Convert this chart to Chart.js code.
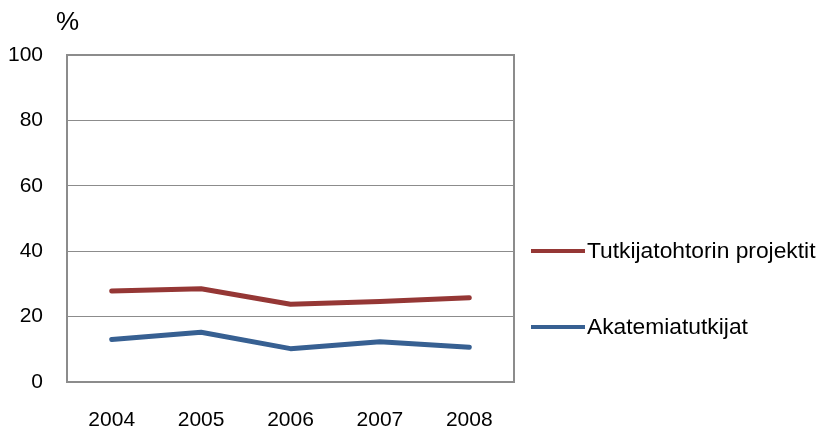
<!DOCTYPE html>
<html><head><meta charset="utf-8">
<script src="https://cdn.jsdelivr.net/npm/chart.js@4"></script>
<style>
html,body{margin:0;padding:0;background:#fff;}
#wrap{position:relative;width:819px;height:428px;}
canvas{position:absolute;left:0;top:0;}
.t{position:absolute;font-family:"Liberation Sans",Arial,sans-serif;font-size:26px;color:#000;white-space:nowrap;}
.leg{position:absolute;display:flex;align-items:center;font-family:"Liberation Sans",Arial,sans-serif;font-size:22.8px;color:#000;white-space:nowrap;}
.leg span.sw{display:inline-block;width:54px;height:4px;margin-right:2px;}
</style></head>
<body><div id="wrap"><canvas id="c" width="819" height="428"></canvas>
<div class="t" style="left:56px;top:6px;">%</div>
<div id="legend"></div></div>
<script>
const years = ['2004','2005','2006','2007','2008'];
const tutkijatohtori = [27.8, 28.5, 23.8, 24.6, 25.8];
const akatemia = [13.0, 15.2, 10.2, 12.3, 10.6];
const seriesNames = ['Tutkijatohtorin projektit', 'Akatemiatutkijat'];
const seriesColors = ['#953735', '#376092'];
const yTicks = [0, 20, 40, 60, 80, 100];

const L = 67, R = 514, T = 55, B = 382;
const boxPlugin = {
  id: 'box',
  afterDraw(chart) {
    const a = chart.chartArea, ctx = chart.ctx;
    ctx.save();
    ctx.strokeStyle = '#8c8c8c';
    ctx.lineWidth = 2;
    ctx.strokeRect(a.left, a.top, a.right - a.left, a.bottom - a.top);
    ctx.restore();
  }
};

const chart = new Chart(document.getElementById('c'), {
  type: 'line',
  data: {
    labels: years,
    datasets: [
      {label: seriesNames[0], data: tutkijatohtori, borderColor: seriesColors[0], backgroundColor: seriesColors[0], borderWidth: 5, pointRadius: 0, tension: 0, borderCapStyle: 'round', borderJoinStyle: 'round'},
      {label: seriesNames[1], data: akatemia, borderColor: seriesColors[1], backgroundColor: seriesColors[1], borderWidth: 5, pointRadius: 0, tension: 0, borderCapStyle: 'round', borderJoinStyle: 'round'}
    ]
  },
  options: {
    responsive: false,
    animation: false,
    devicePixelRatio: 1,
    layout: {padding: {left: 0, right: 819 - R, top: T, bottom: 0}},
    plugins: {legend: {display: false}, tooltip: {enabled: false}},
    scales: {
      x: {
        offset: true,
        grid: {display: false, drawTicks: false},
        border: {display: false},
        ticks: {color: '#000', font: {family: 'Liberation Sans', size: 21}, padding: 26, maxRotation: 0},
        afterFit(s) { s.height = 428 - B; }
      },
      y: {
        min: 0, max: 100,
        afterBuildTicks(s) { s.ticks = yTicks.map(v => ({value: v})); },
        grid: {color: '#8c8c8c', lineWidth: 1, drawTicks: false},
        border: {display: false},
        ticks: {color: '#000', font: {family: 'Liberation Sans', size: 21}, padding: 24},
        afterFit(s) { s.width = L; }
      }
    }
  },
  plugins: [boxPlugin]
});

const leg = document.getElementById('legend');
const legY = [250, 326];
seriesNames.forEach((n, i) => {
  const d = document.createElement('div');
  d.className = 'leg';
  d.style.left = '531px';
  d.style.top = (legY[i] - 13) + 'px';
  d.innerHTML = '<span class="sw" style="background:' + seriesColors[i] + '"></span>' + n;
  leg.appendChild(d);
});
</script></body></html>
